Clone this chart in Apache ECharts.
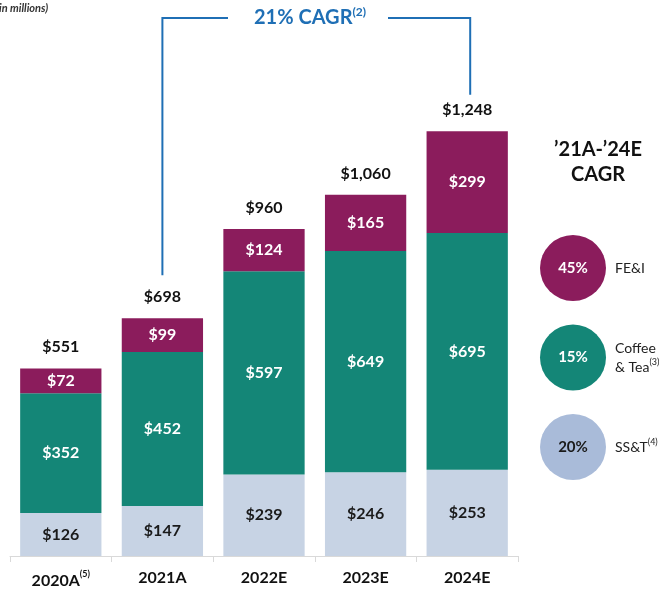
<!DOCTYPE html>
<html lang="en">
<head>
    <meta charset="UTF-8">
    <title>Revenue by segment</title>
    <script src="https://cdn.jsdelivr.net/npm/echarts@6/dist/echarts.min.js"></script>
</head>
<body style="margin:0">
    <div id="main" style="width: 672px;height:593px;"></div>
    <script type="text/javascript">
        var years = ['2020A', '2021A', '2022E', '2023E', '2024E'];
        var ssT = [126, 147, 239, 246, 253];
        var coffeeTea = [352, 452, 597, 649, 695];
        var fei = [72, 99, 124, 165, 299];
        var totals = [551, 698, 960, 1060, 1248];
        var cagrNames = ['FE&I', 'Coffee\n& Tea', 'SS&T'];
        var cagrValues = ['45%', '15%', '20%'];

        var PURPLE = '#8B1C5C', TEAL = '#148677', LIGHT = '#C7D3E4', BLUE = '#1F6FB5';
        var FONT = 'Lato, "Open Sans", sans-serif';

        var myChart = echarts.init(document.getElementById('main'));

        function money(v) {
            return '$' + v.toLocaleString('en-US');
        }

        function segLabel(color) {
            return {
                show: true, position: 'inside', color: color,
                fontFamily: FONT, fontWeight: 'bold', fontSize: 16,
                formatter: function (p) { return money(p.value); }
            };
        }

        var option = {
            animation: false,
            grid: { left: 10, right: 154, top: 79, bottom: 37 },
            xAxis: {
                type: 'category',
                data: years,
                axisLine: { lineStyle: { color: '#D9D9D9', width: 1 } },
                axisTick: { show: true, length: 6, interval: 0, lineStyle: { color: '#D9D9D9' } },
                axisLabel: {
                    margin: 14, interval: 0,
                    formatter: function (v, i) { return i === 0 ? v + '{sup|(5)}' : v; },
                    color: '#111', fontFamily: FONT, fontWeight: 'bold', fontSize: 16,
                    rich: { sup: { fontSize: 9, verticalAlign: 'top', padding: [0, 0, 12, 0], color: '#111', fontFamily: FONT } }
                }
            },
            yAxis: {
                type: 'value', min: 0, max: 1400, show: false,
                splitLine: { show: false }
            },
            series: [
                // invisible full-height bar, only carries the total label
                { name: 'Total', type: 'bar', data: totals, barGap: '-100%', barCategoryGap: '20%',
                  itemStyle: { color: 'rgba(0,0,0,0)' }, silent: true, z: 1,
                  label: { show: true, position: 'top', distance: 13, color: '#111',
                           fontFamily: FONT, fontWeight: 'bold', fontSize: 16,
                           formatter: function (p) { return money(p.value); } } },
                { name: 'SS&T', type: 'bar', stack: 'a', data: ssT, barCategoryGap: '20%',
                  itemStyle: { color: LIGHT }, label: segLabel('#1a1a1a') },
                { name: 'Coffee & Tea', type: 'bar', stack: 'a', data: coffeeTea,
                  itemStyle: { color: TEAL }, label: segLabel('#fff') },
                { name: 'FE&I', type: 'bar', stack: 'a', data: fei,
                  itemStyle: { color: PURPLE }, label: segLabel('#fff') }
            ]
        };
        myChart.setOption(option);

        // bracket + right-hand CAGR panel
        var p1 = myChart.convertToPixel({ gridIndex: 0 }, [years[1], totals[1]]);
        var p2 = myChart.convertToPixel({ gridIndex: 0 }, [years[4], totals[4]]);
        var yTop = 18, midX = 310;
        var graphics = [
            { type: 'text', left: -4, top: 3,
              style: { text: '(in millions)', fontFamily: FONT, fontStyle: 'italic', fontWeight: 'bold', fontSize: 11, fill: '#333' } },
            { type: 'polyline', shape: { points: [[p1[0], p1[1] - 43], [p1[0], yTop], [midX - 82, yTop]] },
              style: { stroke: BLUE, lineWidth: 2, fill: null } },
            { type: 'polyline', shape: { points: [[midX + 78, yTop], [p2[0] + 3, yTop], [p2[0] + 3, p2[1] - 36]] },
              style: { stroke: BLUE, lineWidth: 2, fill: null } },
            { type: 'text', x: midX, y: yTop, style: {
                text: '21% CAGR{sup|(2)}', align: 'center', verticalAlign: 'middle',
                fill: BLUE, fontFamily: FONT, fontWeight: 'bold', fontSize: 20,
                rich: { sup: { fontSize: 12, fontWeight: 'bold', fill: BLUE, fontFamily: FONT, verticalAlign: 'top', padding: [0, 0, 12, 0] } }
            } },
            { type: 'text', x: 598, y: 162, style: {
                text: '\u201921A-\u201924E\nCAGR', align: 'center', verticalAlign: 'middle',
                fill: '#111', fontFamily: FONT, fontWeight: 'bold', fontSize: 20, lineHeight: 25
            } }
        ];
        var circleColors = [PURPLE, TEAL, '#A9BBD9'];
        var circleText = ['#fff', '#fff', '#1a1a1a'];
        for (var i = 0; i < cagrValues.length; i++) {
            var cy = 268 + i * 89.5;
            graphics.push({ type: 'circle', shape: { cx: 573, cy: cy, r: 33 }, style: { fill: circleColors[i] } });
            graphics.push({ type: 'text', x: 573, y: cy, style: {
                text: cagrValues[i], align: 'center', verticalAlign: 'middle',
                fill: circleText[i], fontFamily: FONT, fontWeight: 'bold', fontSize: 15 } });
            var nm = cagrNames[i];
            if (i === 1) nm = 'Coffee\n& Tea{sup|(3)}';
            if (i === 2) nm = 'SS&T{sup|(4)}';
            graphics.push({ type: 'text', x: 615, y: cy, style: {
                text: nm, align: 'left', verticalAlign: 'middle', lineHeight: 19,
                fill: '#222', fontFamily: FONT, fontSize: 14,
                rich: { sup: { fontSize: 9, fill: '#222', fontFamily: FONT, verticalAlign: 'top', padding: [0, 0, 8, 0] } } } });
        }
        myChart.setOption({ graphic: graphics });
    </script>
</body>
</html>
